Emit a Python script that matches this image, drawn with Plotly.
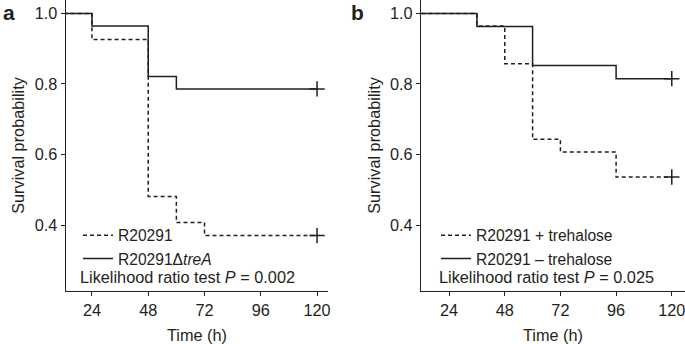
import plotly.graph_objects as go

# ---- data ----
# Panel a
a_wt_time = [0, 24, 48, 60, 72, 120]
a_wt_surv = [1.0, 0.926, 0.481, 0.407, 0.370, 0.370]
a_mut_time = [0, 24, 48, 60, 120]
a_mut_surv = [1.0, 0.964, 0.821, 0.786, 0.786]
# Panel b
b_plus_time = [0, 36, 48, 60, 72, 96, 120]
b_plus_surv = [1.0, 0.964, 0.857, 0.643, 0.607, 0.536, 0.536]
b_minus_time = [0, 36, 60, 96, 120]
b_minus_surv = [1.0, 0.963, 0.852, 0.815, 0.815]

x_ticks = [24, 48, 72, 96, 120]
y_ticks = [0.4, 0.6, 0.8, 1.0]
y_tick_text = ["0.4", "0.6", "0.8", "1.0"]

names_a = ["R20291", "R20291\u0394<i>treA</i>"]
names_b = ["R20291 + trehalose", "R20291 \u2013 trehalose"]
pvals = ["0.002", "0.025"]

INK = "#231f20"
FONT = "Liberation Sans, Arial, sans-serif"
FS = 16.3
LFS = 15.6
W, H = 685, 344

fig = go.Figure()

def add_panel(xa, ya, legend, t_dash, s_dash, t_solid, s_solid, names):
    fig.add_trace(go.Scatter(x=t_dash, y=s_dash, mode="lines", line_shape="hv",
                             line=dict(color=INK, width=1.5, dash="4px,3px"),
                             name=names[0], xaxis=xa, yaxis=ya, legend=legend))
    fig.add_trace(go.Scatter(x=t_solid, y=s_solid, mode="lines", line_shape="hv",
                             line=dict(color=INK, width=1.5),
                             name=names[1], xaxis=xa, yaxis=ya, legend=legend))
    # censor marks at the last time point
    fig.add_trace(go.Scatter(x=[t_dash[-1], t_solid[-1]], y=[s_dash[-1], s_solid[-1]],
                             mode="markers", showlegend=False, cliponaxis=False,
                             marker=dict(symbol="cross-thin", size=11,
                                         line=dict(color=INK, width=1.5)),
                             xaxis=xa, yaxis=ya))

add_panel("x", "y", "legend", a_wt_time, a_wt_surv, a_mut_time, a_mut_surv, names_a)
add_panel("x2", "y2", "legend2", b_plus_time, b_plus_surv, b_minus_time, b_minus_surv, names_b)

ybottom = 1 - 291 / H

axis_common = dict(showline=True, linecolor=INK, linewidth=1.3, ticks="outside",
                   ticklen=4, tickwidth=1.3, tickcolor=INK, showgrid=False,
                   zeroline=False, mirror=False, automargin=False,
                   ticklabeloverflow="allow",
                   tickfont=dict(family=FONT, size=FS, color=INK))

fig.update_layout(
    width=W, height=H,
    margin=dict(l=0, r=0, t=0, b=0),
    paper_bgcolor="white", plot_bgcolor="white",
    font=dict(family=FONT, size=FS, color=INK),
    xaxis=dict(domain=[65.7 / W, 328.3 / W], range=[12.8, 124.8], tickvals=x_ticks,
               title=dict(text="Time (h)", standoff=11, font=dict(size=FS)),
               anchor="y", **axis_common),
    yaxis=dict(domain=[ybottom, 1.0], range=[0.213, 1.038], tickvals=y_ticks,
               ticktext=y_tick_text,
               title=dict(text="Survival probability", standoff=5, font=dict(size=FS)),
               anchor="x", **axis_common),
    xaxis2=dict(domain=[421 / W, 1.0], range=[11.9, 125.7], tickvals=x_ticks,
                title=dict(text="Time (h)", standoff=11, font=dict(size=FS)),
                anchor="y2", **axis_common),
    yaxis2=dict(domain=[ybottom, 1.0], range=[0.213, 1.038], tickvals=y_ticks,
                ticktext=y_tick_text,
                title=dict(text="Survival probability", standoff=5, font=dict(size=FS)),
                anchor="x2", **axis_common),
    legend=dict(x=78 / W, y=1 - 218.5 / H, xanchor="left", yanchor="top",
                bgcolor="rgba(0,0,0,0)", borderwidth=0, tracegroupgap=0,
                font=dict(family=FONT, size=LFS, color=INK), itemwidth=30),
    legend2=dict(x=436 / W, y=1 - 218.5 / H, xanchor="left", yanchor="top",
                 bgcolor="rgba(0,0,0,0)", borderwidth=0, tracegroupgap=0,
                 font=dict(family=FONT, size=LFS, color=INK), itemwidth=30),
)

# p-value lines and panel letters
for xpx, p in [(78, pvals[0]), (436.5, pvals[1])]:
    fig.add_annotation(x=xpx / W, y=1 - 277 / H, xref="paper", yref="paper",
                       xanchor="left", yanchor="middle", showarrow=False,
                       text=f"Likelihood ratio test <i>P</i> = {p}",
                       font=dict(family=FONT, size=FS, color=INK))
for xpx, letter in [(9, "a"), (357, "b")]:
    fig.add_annotation(x=xpx / W, y=1 - 13 / H, xref="paper", yref="paper",
                       xanchor="center", yanchor="middle", showarrow=False,
                       text=f"<b>{letter}</b>",
                       font=dict(family=FONT, size=21, color=INK))

fig.write_html("out.html",
               config={"displayModeBar": False},
               post_script="document.body.style.margin='0';"
                           "document.body.style.overflow='hidden';")
